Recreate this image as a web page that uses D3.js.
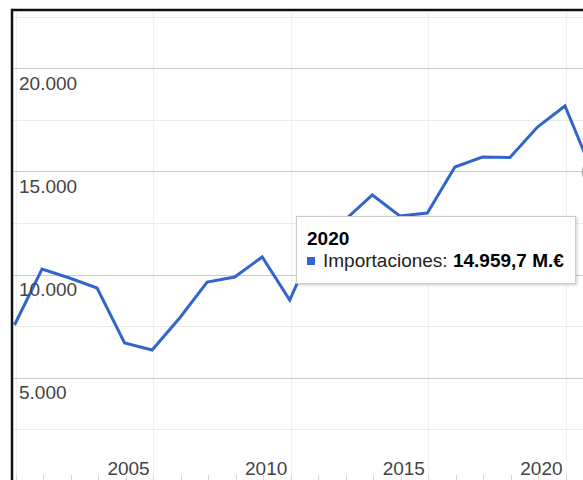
<!DOCTYPE html>
<html>
	<head>
		<meta charset="utf-8" />
		<title>Importaciones</title>
		<script src="https://d3js.org/d3.v7.min.js"></script>
		<style>
			body { margin: 0; background: #fff; }
			svg { display: block; font-family: Arial, "Liberation Sans", sans-serif; }
		</style>
	</head>
	<body>
		<svg width="583" height="480"></svg>
		<script>
			// yearly values, millions of euros
			const years = [1999, 2000, 2001, 2002, 2003, 2004, 2005, 2006, 2007, 2008, 2009,
				2010, 2011, 2012, 2013, 2014, 2015, 2016, 2017, 2018, 2019, 2020];
			const importaciones = [7558, 10271, 9835, 9351, 6686, 6347, 7897, 9641, 9884, 10853, 8770,
				11773, 12645, 13856, 12839, 12984, 15213, 15698, 15670, 17151, 18169, 14959.7];

			const majorTicks = [5000, 10000, 15000, 20000];
			const minorTicks = [2500, 7500, 12500, 17500, 22500];
			const xTickLabels = [2005, 2010, 2015, 2020];
			const gridYears = [1999, 2004, 2009, 2014, 2019];
			const hovered = 2020;

			const svg = d3.select("svg");
			const es = d3.formatLocale({ decimal: ",", thousands: ".", grouping: [3], currency: ["", " M.€"] });

			// scales - the view is panned so the first/last years sit at the edges
			const x = d3.scaleLinear().domain([1999, 2020]).range([14.5, 592.5]);
			const y = d3.scaleLinear().domain([0, 20000]).range([481, 68.2]);

			const plotL = 12, plotT = 10, plotR = 583, plotB = 480;

			const defs = svg.append("defs");
			defs.append("clipPath").attr("id", "plot")
				.append("rect").attr("x", plotL).attr("y", plotT)
				.attr("width", plotR - plotL).attr("height", plotB - plotT);

			const filter = defs.append("filter").attr("id", "shadow")
				.attr("x", "-10%").attr("y", "-20%").attr("width", "130%").attr("height", "150%");
			filter.append("feDropShadow").attr("dx", 1).attr("dy", 1)
				.attr("stdDeviation", 1.5).attr("flood-color", "#000").attr("flood-opacity", 0.2);

			const plot = svg.append("g").attr("clip-path", "url(#plot)");

			// vertical gridlines
			plot.selectAll(".vgrid").data(gridYears).enter().append("line")
				.attr("x1", (d) => Math.round(x(d)) + 1.5).attr("x2", (d) => Math.round(x(d)) + 1.5)
				.attr("y1", plotT).attr("y2", plotB)
				.style("stroke", "#f0f0f0");

			// horizontal gridlines
			plot.selectAll(".minor").data(minorTicks).enter().append("line")
				.attr("x1", plotL).attr("x2", plotR)
				.attr("y1", (d) => Math.round(y(d)) + 0.5).attr("y2", (d) => Math.round(y(d)) + 0.5)
				.style("stroke", "#ebebeb");
			plot.selectAll(".major").data(majorTicks).enter().append("line")
				.attr("x1", plotL).attr("x2", plotR)
				.attr("y1", (d) => Math.round(y(d)) + 0.5).attr("y2", (d) => Math.round(y(d)) + 0.5)
				.style("stroke", "#cccccc");

			// small yearly ticks along the bottom
			plot.selectAll(".ytick").data(d3.range(1999, 2021)).enter().append("line")
				.attr("x1", (d) => Math.round(x(d)) + 1.5).attr("x2", (d) => Math.round(x(d)) + 1.5)
				.attr("y1", 475).attr("y2", plotB)
				.style("stroke", "#d6d6d6");

			// y axis labels
			const yAxis = svg.append("g")
				.attr("transform", `translate(${plotL},0)`)
				.call(d3.axisRight(y).tickValues(majorTicks).tickSize(0).tickPadding(7)
					.tickFormat(es.format(",.0f")));
			yAxis.select(".domain").remove();
			yAxis.selectAll("text")
				.attr("dy", 21)
				.style("font-size", "19px")
				.style("font-family", "Arial, 'Liberation Sans', sans-serif")
				.style("fill", "#444");

			// x axis labels (label positions are offset from the data years in the source view)
			const xAxis = svg.append("g")
				.attr("transform", `translate(-51.6,${plotB - 5})`)
				.call(d3.axisBottom(x).tickValues(xTickLabels).tickSize(0).tickPadding(0)
					.tickFormat(d3.format("d")));
			xAxis.select(".domain").remove();
			xAxis.selectAll("text")
				.attr("dy", 0)
				.attr("y", 0)
				.style("font-size", "19px")
				.style("font-family", "Arial, 'Liberation Sans', sans-serif")
				.style("fill", "#444");

			// the series
			const line = d3.line()
				.x((d, i) => x(years[i]))
				.y((d) => y(d));

			plot.append("path")
				.attr("d", line(importaciones))
				.style("fill", "none")
				.style("stroke", "#3366cc")
				.style("stroke-width", 3)
				.style("stroke-linejoin", "miter");

			// focus ring on the hovered point
			const hi = years.indexOf(hovered);
			plot.append("circle")
				.attr("cx", x(hovered)).attr("cy", y(importaciones[hi]))
				.attr("r", 10)
				.style("fill", "none")
				.style("stroke", "#bbb")
				.style("stroke-width", 2);

			// frame
			svg.append("line").attr("x1", plotL).attr("x2", plotR).attr("y1", plotT).attr("y2", plotT)
				.style("stroke", "#111").style("stroke-width", 2.5);
			svg.append("line").attr("x1", plotL).attr("x2", plotL).attr("y1", plotT - 1.2).attr("y2", plotB)
				.style("stroke", "#111").style("stroke-width", 2.5);

			// tooltip
			const tip = svg.append("g").attr("transform", "translate(296.5,216.5)");
			tip.append("rect")
				.attr("width", 279).attr("height", 67)
				.style("fill", "#fff").style("stroke", "#cccccc")
				.attr("filter", "url(#shadow)");
			tip.append("text")
				.attr("x", 10.5).attr("y", 28.5)
				.text(hovered)
				.style("font-size", "19px").style("font-weight", "bold").style("fill", "#000");
			tip.append("rect")
				.attr("x", 10.5).attr("y", 40.5).attr("width", 8).attr("height", 8)
				.style("fill", "#3366cc");
			const t = tip.append("text")
				.attr("x", 26.5).attr("y", 50.5)
				.style("font-size", "19px").style("fill", "#222");
			t.append("tspan").text("Importaciones: ");
			t.append("tspan").style("font-weight", "bold").style("fill", "#000")
				.text(es.format(",.1f")(importaciones[hi]) + " M.€");
		</script>
	</body>
</html>
